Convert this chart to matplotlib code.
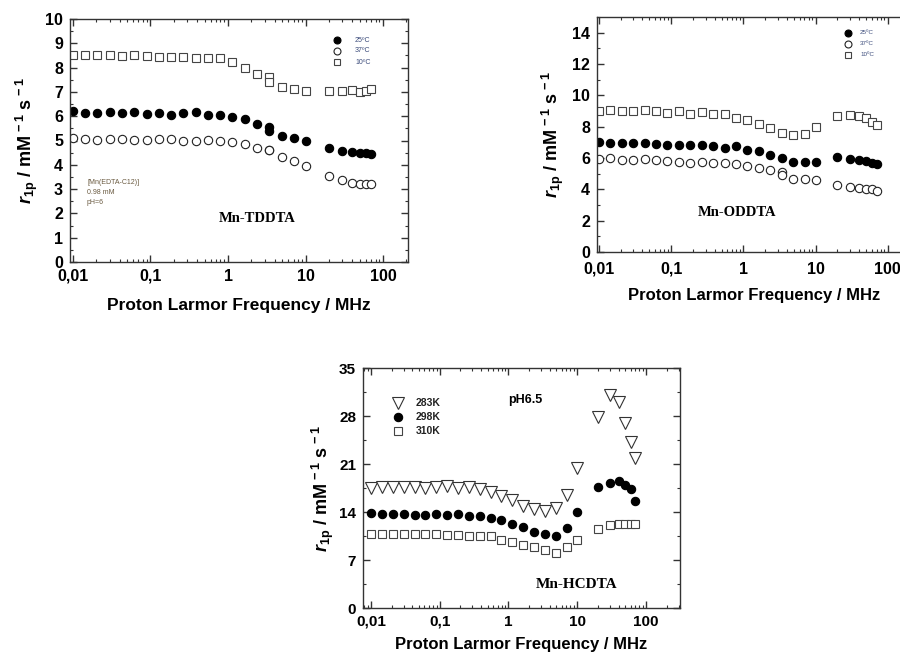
import matplotlib
matplotlib.use("Agg")
import matplotlib.pyplot as plt
import numpy as np
from matplotlib.ticker import FixedLocator, FixedFormatter, LogLocator, NullFormatter, MultipleLocator

plt.rcParams['font.family'] = ['Liberation Sans', 'DejaVu Sans']
plt.rcParams['mathtext.fontset'] = 'custom'
plt.rcParams['mathtext.rm'] = 'Liberation Sans:bold'
plt.rcParams['mathtext.it'] = 'Liberation Sans:bold:italic'
plt.rcParams['mathtext.bf'] = 'Liberation Sans:bold'

# ---------------- Panel 1: Mn-TDDTA ----------------
tddta_x = [0.01, 0.0144, 0.0207, 0.0298, 0.043, 0.062, 0.089, 0.128, 0.185, 0.266,
           0.383, 0.55, 0.79, 1.14, 1.64, 2.36, 3.4, 3.4, 4.9, 7.05, 10.0,
           20, 30, 40, 50, 60, 70]
tddta_25 = [6.22, 6.15, 6.12, 6.19, 6.15, 6.18, 6.10, 6.15, 6.03, 6.15,
            6.16, 6.04, 6.04, 5.97, 5.89, 5.67, 5.56, 5.40, 5.19, 5.11, 4.96,
            4.71, 4.58, 4.53, 4.48, 4.47, 4.45]
tddta_37 = [5.12, 5.07, 5.03, 5.05, 5.05, 5.03, 5.01, 5.08, 5.05, 4.99,
            4.99, 5.03, 4.96, 4.92, 4.86, 4.68, 4.62, 4.62, 4.32, 4.14, 3.97,
            3.53, 3.38, 3.27, 3.22, 3.21, 3.19]
tddta_10 = [8.52, 8.52, 8.52, 8.52, 8.48, 8.51, 8.48, 8.44, 8.42, 8.42,
            8.38, 8.40, 8.40, 8.25, 8.00, 7.74, 7.63, 7.41, 7.22, 7.10, 7.05,
            7.05, 7.05, 7.08, 7.00, 7.05, 7.10]

# ---------------- Panel 2: Mn-ODDTA ----------------
oddta_x = [0.01, 0.0144, 0.0207, 0.0298, 0.043, 0.062, 0.089, 0.128, 0.185, 0.266,
           0.383, 0.55, 0.79, 1.14, 1.64, 2.36, 3.4, 4.9, 7.05, 10.0,
           20, 30, 40, 50, 60, 70]
oddta_25 = [7.02, 6.94, 6.98, 6.98, 6.98, 6.89, 6.85, 6.83, 6.85, 6.81,
            6.76, 6.64, 6.74, 6.51, 6.44, 6.16, 6.01, 5.73, 5.73, 5.75,
            6.06, 5.95, 5.90, 5.82, 5.71, 5.60]
oddta_10 = [9.02, 9.06, 8.98, 8.98, 9.06, 9.00, 8.85, 8.98, 8.80, 8.91,
            8.83, 8.80, 8.57, 8.44, 8.18, 7.90, 7.62, 7.47, 7.56, 7.97,
            8.65, 8.76, 8.70, 8.55, 8.31, 8.12]
oddta_x37 = [0.01, 0.0144, 0.0207, 0.0298, 0.043, 0.062, 0.089, 0.128, 0.185, 0.266,
             0.383, 0.55, 0.79, 1.14, 1.64, 2.36, 3.4, 3.4, 4.9, 7.05, 10.0,
             20, 30, 40, 50, 60, 70]
oddta_37 = [5.95, 5.99, 5.90, 5.90, 5.93, 5.86, 5.78, 5.75, 5.69, 5.73,
            5.69, 5.65, 5.60, 5.52, 5.37, 5.22, 5.09, 4.90, 4.68, 4.68, 4.62,
            4.27, 4.14, 4.10, 4.04, 4.02, 3.91]

# ---------------- Panel 3: Mn-HCDTA ----------------
hcdta_x = [0.01, 0.0144, 0.0207, 0.0298, 0.043, 0.062, 0.089, 0.128, 0.185, 0.266,
           0.383, 0.55, 0.79, 1.14, 1.64, 2.36, 3.4, 4.9, 7.05, 10.0,
           20, 30, 40, 50, 60, 70]
hcdta_283 = [17.5, 17.65, 17.65, 17.6, 17.6, 17.45, 17.65, 17.84, 17.5, 17.6,
             17.3, 16.9, 16.3, 15.75, 14.9, 14.4, 14.2, 14.6, 16.5, 20.4,
             27.9, 31.1, 30.0, 27.0, 24.2, 21.9]
hcdta_298 = [13.9, 13.76, 13.76, 13.76, 13.6, 13.56, 13.66, 13.6, 13.66, 13.4,
             13.37, 13.17, 12.9, 12.25, 11.86, 11.08, 10.84, 10.55, 11.67, 13.95,
             17.6, 18.23, 18.47, 17.9, 17.36, 15.56]
hcdta_310 = [10.84, 10.8, 10.8, 10.8, 10.8, 10.74, 10.74, 10.7, 10.7, 10.55,
             10.45, 10.5, 9.97, 9.67, 9.14, 8.85, 8.46, 8.07, 8.85, 9.97,
             11.57, 12.1, 12.3, 12.2, 12.2, 12.3]

xtick_vals = [0.01, 0.1, 1, 10, 100]
xtick_labels = ['0,01', '0,1', '1', '10', '100']

W, H = 900, 653
fig = plt.figure(figsize=(9, 6.53), dpi=100)

def axes_px(l, t, r, b):
    return fig.add_axes([l / W, 1 - b / H, (r - l) / W, (b - t) / H])

ylab = r'$\it{r}_{\rm{1p}}$ / mM$^{\rm{\,-1}}$ s$^{\rm{\,-1}}$'
xlab = 'Proton Larmor Frequency / MHz'

def style(ax, xlim, ylim, yticks, yminor, tsize=11.5, xpad=5):
    ax.set_xscale('log')
    ax.set_xlim(*xlim)
    ax.set_ylim(*ylim)
    ax.xaxis.set_major_locator(FixedLocator(xtick_vals))
    ax.xaxis.set_major_formatter(FixedFormatter(xtick_labels))
    ax.xaxis.set_minor_locator(LogLocator(base=10, subs=np.arange(2, 10), numticks=20))
    ax.xaxis.set_minor_formatter(NullFormatter())
    ax.set_yticks(yticks)
    ax.yaxis.set_minor_locator(MultipleLocator(yminor))
    ax.tick_params(which='both', direction='in', top=True, right=True, color='#333333')
    ax.tick_params(which='major', length=5, width=1, labelsize=tsize, pad=5)
    ax.tick_params(axis='x', which='major', pad=xpad)
    ax.tick_params(which='minor', length=2.5, width=0.8)
    for lab in ax.get_xticklabels() + ax.get_yticklabels():
        lab.set_fontweight('bold')
    for s in ax.spines.values():
        s.set_linewidth(1.0)
        s.set_color('#333333')

ms = 6.0
kw_f = dict(ls='none', marker='o', ms=ms, mfc='black', mec='black', mew=0.8)
kw_o = dict(ls='none', marker='o', ms=ms, mfc='white', mec='#222222', mew=0.8)
kw_s = dict(ls='none', marker='s', ms=ms, mfc='white', mec='#444444', mew=0.8)

# Panel 1
ax1 = axes_px(70, 19, 408, 262)
ax1.plot(tddta_x, tddta_10, **kw_s)
ax1.plot(tddta_x, tddta_25, **kw_f)
ax1.plot(tddta_x, tddta_37, **kw_o)
style(ax1, (0.00915, 210), (0, 10), range(0, 11), 0.5)
ax1.set_xlabel(xlab, fontsize=12.5, fontweight='bold', labelpad=10)
ax1.set_ylabel(ylab, fontsize=13, fontweight='bold', labelpad=4)
for i, (mk, txt) in enumerate([(kw_f, '25ºC'), (kw_o, '37ºC'), (kw_s, '10ºC')]):
    yy = 40 + 11 * i
    k = dict(mk); k['ms'] = 5
    ax1.plot([(337 - 70) / 338], [1 - (yy - 19) / 243], transform=ax1.transAxes, clip_on=False, **k)
    ax1.text((355 - 70) / 338, 1 - (yy - 19) / 243, txt, transform=ax1.transAxes,
             fontsize=5, va='center', ha='left', color='#3a4a7a')
ax1.text((87 - 70) / 338, 1 - (193 - 19) / 243, '[Mn(EDTA-C12)]\n0.98 mM\npH=6',
         transform=ax1.transAxes, fontsize=5, va='center', ha='left',
         color='#6a5a40', linespacing=1.6)
ax1.text((257 - 70) / 338, 1 - (219 - 19) / 243, 'Mn-TDDTA', transform=ax1.transAxes,
         fontsize=10.5, fontweight='bold', family='Liberation Serif', ha='center', va='center')

# Panel 2
ax2 = axes_px(597, 17, 911, 252)
ax2.plot(oddta_x, oddta_10, **kw_s)
ax2.plot(oddta_x, oddta_25, **kw_f)
ax2.plot(oddta_x37, oddta_37, **kw_o)
style(ax2, (0.0094, 210), (0, 15), range(0, 15, 2), 1, xpad=7)
ax2.set_xlabel(xlab, fontsize=12, fontweight='bold', labelpad=8)
ax2.set_ylabel(ylab, fontsize=13, fontweight='bold', labelpad=4)
for i, (mk, txt) in enumerate([(kw_f, '25ºC'), (kw_o, '37ºC'), (kw_s, '10ºC')]):
    yy = 33 + 11 * i
    k = dict(mk); k['ms'] = 5
    ax2.plot([(848 - 597) / 314], [1 - (yy - 17) / 235], transform=ax2.transAxes, clip_on=False, **k)
    ax2.text((860 - 597) / 314, 1 - (yy - 17) / 235, txt, transform=ax2.transAxes,
             fontsize=4.5, va='center', ha='left', color='#3a4a7a')
ax2.text((737 - 597) / 314, 1 - (213 - 17) / 235, 'Mn-ODDTA', transform=ax2.transAxes,
         fontsize=10.5, fontweight='bold', family='Liberation Serif', ha='center', va='center')

# Panel 3
ax3 = axes_px(363, 368, 680, 608)
kw_t = dict(ls='none', marker='v', ms=8, mfc='white', mec='#333333', mew=0.8)
ax3.plot(hcdta_x, hcdta_283, **kw_t)
ax3.plot(hcdta_x, hcdta_298, **kw_f)
ax3.plot(hcdta_x, hcdta_310, **kw_s)
style(ax3, (0.00765, 314), (0, 35), range(0, 36, 7), 3.5, tsize=11)
ax3.set_xlabel(xlab, fontsize=12, fontweight='bold', labelpad=6)
ax3.set_ylabel(ylab, fontsize=13, fontweight='bold', labelpad=2)
for i, (mk, txt) in enumerate([(kw_t, '283K'), (kw_f, '298K'), (kw_s, '310K')]):
    yy = 403 + 14 * i
    k = dict(mk)
    ax3.plot([(398 - 363) / 317], [1 - (yy - 368) / 240], transform=ax3.transAxes, clip_on=False, **k)
    ax3.text((416 - 363) / 317, 1 - (yy - 368) / 240, txt, transform=ax3.transAxes,
             fontsize=7.5, fontweight='bold', va='center', ha='left', color='#222222')
ax3.text((525 - 363) / 317, 1 - (400 - 368) / 240, 'pH6.5', transform=ax3.transAxes,
         fontsize=9, fontweight='bold', ha='center', va='center')
ax3.text((577 - 363) / 317, 1 - (585 - 368) / 240, 'Mn-HCDTA', transform=ax3.transAxes,
         fontsize=11, fontweight='bold', family='Liberation Serif', ha='center', va='center')

fig.savefig('out.png', dpi=100)
